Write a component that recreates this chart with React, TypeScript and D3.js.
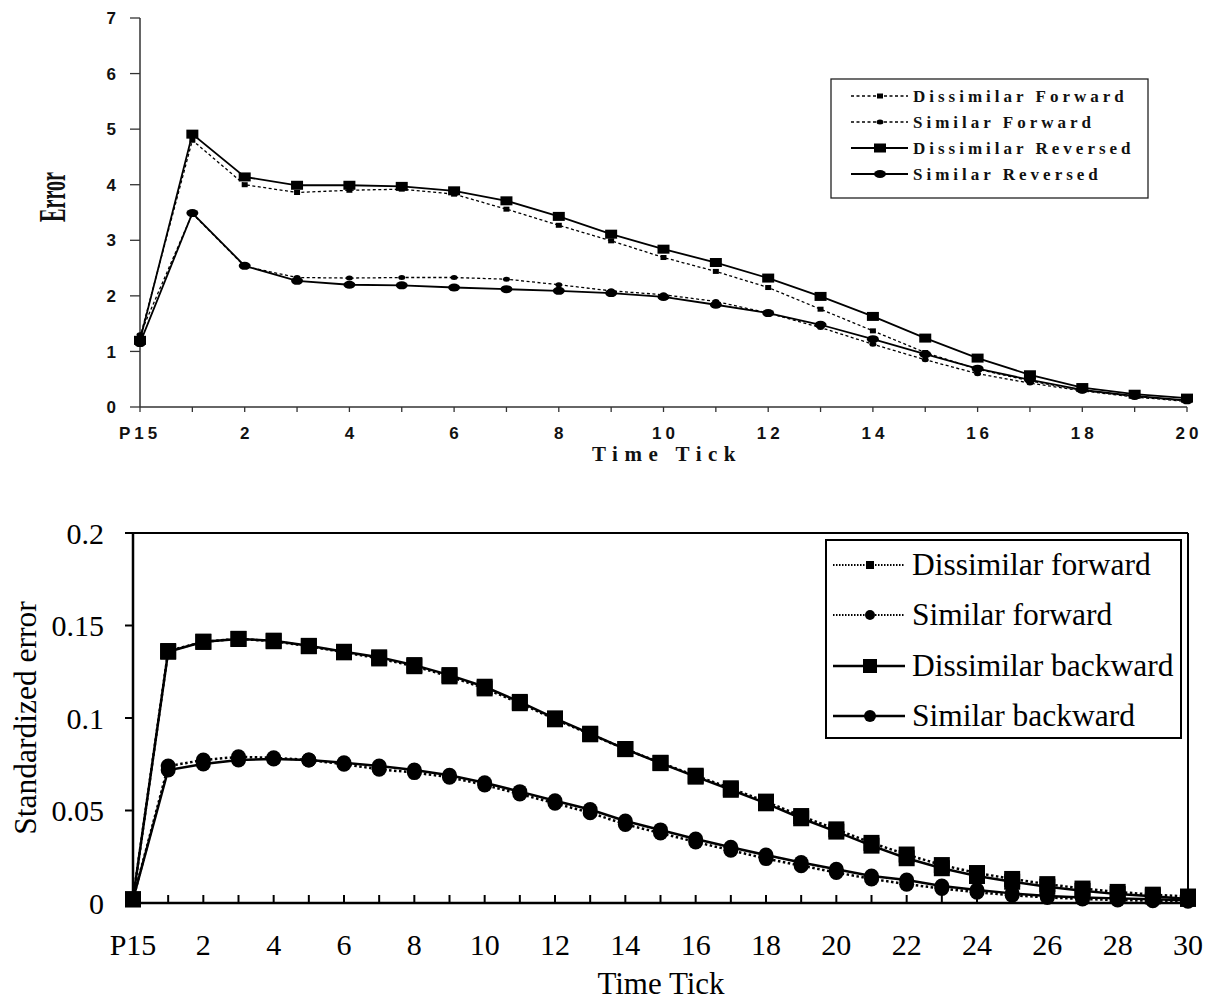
import React from "react";
import * as d3 from "d3";

// ---------- Top chart data (Time Tick: P15, 1..20) ----------
const topTicks = d3.range(0, 21);
const topTickLabels = ["P15", "2", "4", "6", "8", "10", "12", "14", "16", "18", "20"];
const topYTicks = [0, 1, 2, 3, 4, 5, 6, 7];
const topDissimilarForward = [1.25, 4.8, 4.0, 3.86, 3.9, 3.92, 3.83, 3.56, 3.27, 2.99, 2.69, 2.44, 2.15, 1.76, 1.37, 0.98, 0.68, 0.47, 0.3, 0.19, 0.11];
const topSimilarForward = [1.3, 3.48, 2.53, 2.33, 2.32, 2.33, 2.33, 2.3, 2.2, 2.09, 2.02, 1.9, 1.69, 1.43, 1.13, 0.85, 0.6, 0.43, 0.29, 0.18, 0.1];
const topDissimilarReversed = [1.2, 4.91, 4.14, 3.99, 3.99, 3.97, 3.89, 3.71, 3.43, 3.11, 2.84, 2.6, 2.32, 1.99, 1.63, 1.24, 0.88, 0.58, 0.35, 0.23, 0.16];
const topSimilarReversed = [1.15, 3.49, 2.54, 2.27, 2.2, 2.19, 2.15, 2.12, 2.09, 2.05, 1.98, 1.84, 1.69, 1.48, 1.22, 0.95, 0.69, 0.49, 0.31, 0.2, 0.12];
const topLegend = ["Dissimilar Forward", "Similar Forward", "Dissimilar Reversed", "Similar Reversed"];

// ---------- Bottom chart data (Time Tick: P15, 1..30) ----------
const botTicks = d3.range(0, 31);
const botTickLabels = ["P15", "2", "4", "6", "8", "10", "12", "14", "16", "18", "20", "22", "24", "26", "28", "30"];
const botYTicks = [0, 0.05, 0.1, 0.15, 0.2];
const botYTickLabels = ["0", "0.05", "0.1", "0.15", "0.2"];
const botDissimilarForward = [0.002, 0.1362, 0.1412, 0.1428, 0.1415, 0.1388, 0.1355, 0.1322, 0.128, 0.1225, 0.116, 0.108, 0.0993, 0.0912, 0.0832, 0.0758, 0.0688, 0.062, 0.0548, 0.047, 0.0398, 0.0325, 0.0262, 0.0205, 0.0162, 0.013, 0.0102, 0.0078, 0.006, 0.0045, 0.0035];
const botSimilarForward = [0.002, 0.074, 0.0773, 0.079, 0.0785, 0.0773, 0.075, 0.0723, 0.0705, 0.068, 0.0638, 0.0589, 0.0539, 0.0488, 0.0425, 0.0378, 0.033, 0.0285, 0.024, 0.0202, 0.0165, 0.013, 0.0102, 0.0078, 0.0058, 0.0042, 0.003, 0.0022, 0.0016, 0.0012, 0.001];
const botDissimilarBackward = [0.002, 0.1358, 0.1412, 0.1427, 0.1418, 0.139, 0.1358, 0.1328, 0.1286, 0.1232, 0.1169, 0.1087, 0.0998, 0.0915, 0.0832, 0.0756, 0.0683, 0.0612, 0.0539, 0.0458, 0.0386, 0.031, 0.0242, 0.0188, 0.0146, 0.0115, 0.0088, 0.0066, 0.0048, 0.0036, 0.0022];
const botSimilarBackward = [0.002, 0.0719, 0.0751, 0.0773, 0.0778, 0.0773, 0.0758, 0.074, 0.0719, 0.069, 0.065, 0.0602, 0.0553, 0.0505, 0.0443, 0.0395, 0.0346, 0.0301, 0.0259, 0.0219, 0.0182, 0.0146, 0.0124, 0.0092, 0.007, 0.0052, 0.0038, 0.003, 0.0025, 0.002, 0.0015];
const botLegend = ["Dissimilar forward", "Similar forward", "Dissimilar backward", "Similar backward"];

type Marker = { kind: "square" | "circle"; w: number; h: number };

function MarkerShape({ m, x, y }: { m: Marker; x: number; y: number }) {
  if (m.kind === "square")
    return <rect x={x - m.w / 2} y={y - m.h / 2} width={m.w} height={m.h} fill="#000" />;
  return <ellipse cx={x} cy={y} rx={m.w / 2} ry={m.h / 2} fill="#000" />;
}

function TopChart() {
  const x = d3.scaleLinear().domain([0, 20]).range([140, 1187]);
  const y = d3.scaleLinear().domain([0, 7]).range([407, 18]);
  const series = [
    { data: topDissimilarForward, dash: "3,2.5", width: 1.3, m: { kind: "square", w: 6, h: 5 } as Marker },
    { data: topSimilarForward, dash: "3,2.5", width: 1.3, m: { kind: "circle", w: 7, h: 5 } as Marker },
    { data: topDissimilarReversed, dash: null, width: 1.8, m: { kind: "square", w: 12, h: 9 } as Marker },
    { data: topSimilarReversed, dash: null, width: 1.8, m: { kind: "circle", w: 12, h: 8 } as Marker },
  ];
  const line = d3.line<number>().x((_, i) => x(topTicks[i])).y((d) => y(d));
  const tickFont = "'Liberation Sans', Arial, sans-serif";
  const serifFont = "'Liberation Serif', 'Times New Roman', serif";
  const legendRows = [96, 122, 148, 174];
  return (
    <g>
      {/* axes */}
      <line x1={x(0)} x2={x(0)} y1={y(0)} y2={y(7)} stroke="#333" strokeWidth={1.5} />
      <line x1={x(0)} x2={x(20)} y1={y(0)} y2={y(0)} stroke="#333" strokeWidth={1.5} />
      {topYTicks.map((t) => (
        <g key={"yt" + t}>
          <line x1={x(0) - 10} x2={x(0)} y1={y(t)} y2={y(t)} stroke="#333" strokeWidth={1.3} />
          <text x={116} y={y(t)} dy="0.36em" textAnchor="end" fontFamily={tickFont} fontWeight="bold" fontSize={17} fill="#111">
            {t}
          </text>
        </g>
      ))}
      {topTicks.map((t) => (
        <line key={"xt" + t} x1={x(t)} x2={x(t)} y1={y(0)} y2={y(0) + 5} stroke="#333" strokeWidth={1.3} />
      ))}
      {topTickLabels.map((l, i) => (
        <text key={"xl" + i} x={x(i * 2) + (i === 0 ? 0 : 2)} y={439} textAnchor="middle" fontFamily={tickFont} fontWeight="bold" fontSize={17} letterSpacing={4} fill="#111">
          {l}
        </text>
      ))}
      <text x={667} y={461} textAnchor="middle" fontFamily={serifFont} fontWeight="bold" fontSize={21} letterSpacing={6.5} fill="#111">
        Time Tick
      </text>
      <text
        transform="translate(65,197) rotate(-90)"
        textAnchor="middle"
        fontFamily={serifFont}
        fontWeight="bold"
        fontSize={37}
        textLength={50}
        lengthAdjust="spacingAndGlyphs"
        fill="#111"
      >
        Error
      </text>
      {/* series */}
      {series.map((s, si) => (
        <g key={"s" + si}>
          <path d={line(s.data) || ""} fill="none" stroke="#000" strokeWidth={s.width} strokeDasharray={s.dash || undefined} />
          {s.data.map((v, i) => (
            <MarkerShape key={i} m={s.m} x={x(topTicks[i])} y={y(v)} />
          ))}
        </g>
      ))}
      {/* legend */}
      <rect x={831} y={79} width={317} height={119} fill="#fff" stroke="#222" strokeWidth={1.3} />
      {topLegend.map((l, i) => (
        <g key={"lg" + i}>
          <line x1={851} x2={908} y1={legendRows[i]} y2={legendRows[i]} stroke="#000" strokeWidth={series[i].width} strokeDasharray={series[i].dash || undefined} />
          <MarkerShape m={series[i].m} x={880} y={legendRows[i]} />
          <text x={913} y={legendRows[i]} dy="0.35em" fontFamily={serifFont} fontWeight="bold" fontSize={17} letterSpacing={4} fill="#111">
            {l}
          </text>
        </g>
      ))}
    </g>
  );
}

function BottomChart() {
  const x = d3.scaleLinear().domain([0, 30]).range([133, 1188]);
  const y = d3.scaleLinear().domain([0, 0.2]).range([903, 533]);
  const series = [
    { data: botDissimilarForward, dash: "2.5,2.5", width: 2.5, m: { kind: "square", w: 16, h: 16 } as Marker, lm: { kind: "square", w: 8, h: 8 } as Marker },
    { data: botSimilarForward, dash: "2.5,2.5", width: 2.5, m: { kind: "circle", w: 15, h: 15 } as Marker, lm: { kind: "circle", w: 10, h: 10 } as Marker },
    { data: botDissimilarBackward, dash: null, width: 2.5, m: { kind: "square", w: 16, h: 16 } as Marker, lm: { kind: "square", w: 14, h: 14 } as Marker },
    { data: botSimilarBackward, dash: null, width: 2.5, m: { kind: "circle", w: 15, h: 15 } as Marker, lm: { kind: "circle", w: 12, h: 12 } as Marker },
  ];
  const line = d3.line<number>().x((_, i) => x(botTicks[i])).y((d) => y(d));
  const font = "'Liberation Serif', 'Times New Roman', serif";
  const legendRows = [565, 615, 666, 716];
  return (
    <g>
      {/* frame */}
      <line x1={x(0)} x2={x(0)} y1={y(0)} y2={y(0.2)} stroke="#000" strokeWidth={2.5} />
      <line x1={x(0) - 8} x2={x(30)} y1={y(0)} y2={y(0)} stroke="#000" strokeWidth={2.5} />
      <line x1={x(0) - 8} x2={x(30)} y1={y(0.2)} y2={y(0.2)} stroke="#000" strokeWidth={2} />
      <line x1={x(30)} x2={x(30)} y1={y(0.2)} y2={y(0)} stroke="#000" strokeWidth={2} />
      {botYTicks.map((t, i) => (
        <g key={"yt" + i}>
          <line x1={x(0) - 8} x2={x(0)} y1={y(t)} y2={y(t)} stroke="#000" strokeWidth={2} />
          <text x={104} y={y(t)} dy="0.35em" textAnchor="end" fontFamily={font} fontSize={30} fill="#000">
            {botYTickLabels[i]}
          </text>
        </g>
      ))}
      {botTicks.map((t) => (
        <line key={"xt" + t} x1={x(t)} x2={x(t)} y1={y(0)} y2={y(0) - 8} stroke="#000" strokeWidth={2} />
      ))}
      {botTickLabels.map((l, i) => (
        <text key={"xl" + i} x={x(i * 2)} y={955} textAnchor="middle" fontFamily={font} fontSize={30} fill="#000">
          {l}
        </text>
      ))}
      <text x={661} y={994} textAnchor="middle" fontFamily={font} fontSize={31} fill="#000">
        Time Tick
      </text>
      <text transform="translate(36,718) rotate(-90)" textAnchor="middle" fontFamily={font} fontSize={31.5} fill="#000">
        Standardized error
      </text>
      {/* series */}
      {series.map((s, si) => (
        <g key={"s" + si}>
          <path d={line(s.data) || ""} fill="none" stroke="#000" strokeWidth={s.width} strokeDasharray={s.dash || undefined} />
          {s.data.map((v, i) => (
            <MarkerShape key={i} m={s.m} x={x(botTicks[i])} y={y(v)} />
          ))}
        </g>
      ))}
      {/* legend */}
      <rect x={826} y={540} width={355} height={198} fill="#fff" stroke="#000" strokeWidth={2} />
      {botLegend.map((l, i) => (
        <g key={"lg" + i}>
          <line x1={833} x2={905} y1={legendRows[i]} y2={legendRows[i]} stroke="#000" strokeWidth={series[i].dash ? 2 : 2.5} strokeDasharray={series[i].dash ? "1.5,1.5" : undefined} />
          <MarkerShape m={series[i].lm} x={870} y={legendRows[i]} />
          <text x={912} y={legendRows[i]} dy="0.33em" fontFamily={font} fontSize={31.5} fill="#000">
            {l}
          </text>
        </g>
      ))}
    </g>
  );
}

export default function App() {
  return (
    <svg width={1209} height={1002} style={{ position: "absolute", left: 0, top: 0, background: "#fff" }}>
      <rect x={0} y={0} width={1209} height={1002} fill="#fff" />
      <TopChart />
      <BottomChart />
    </svg>
  );
}
